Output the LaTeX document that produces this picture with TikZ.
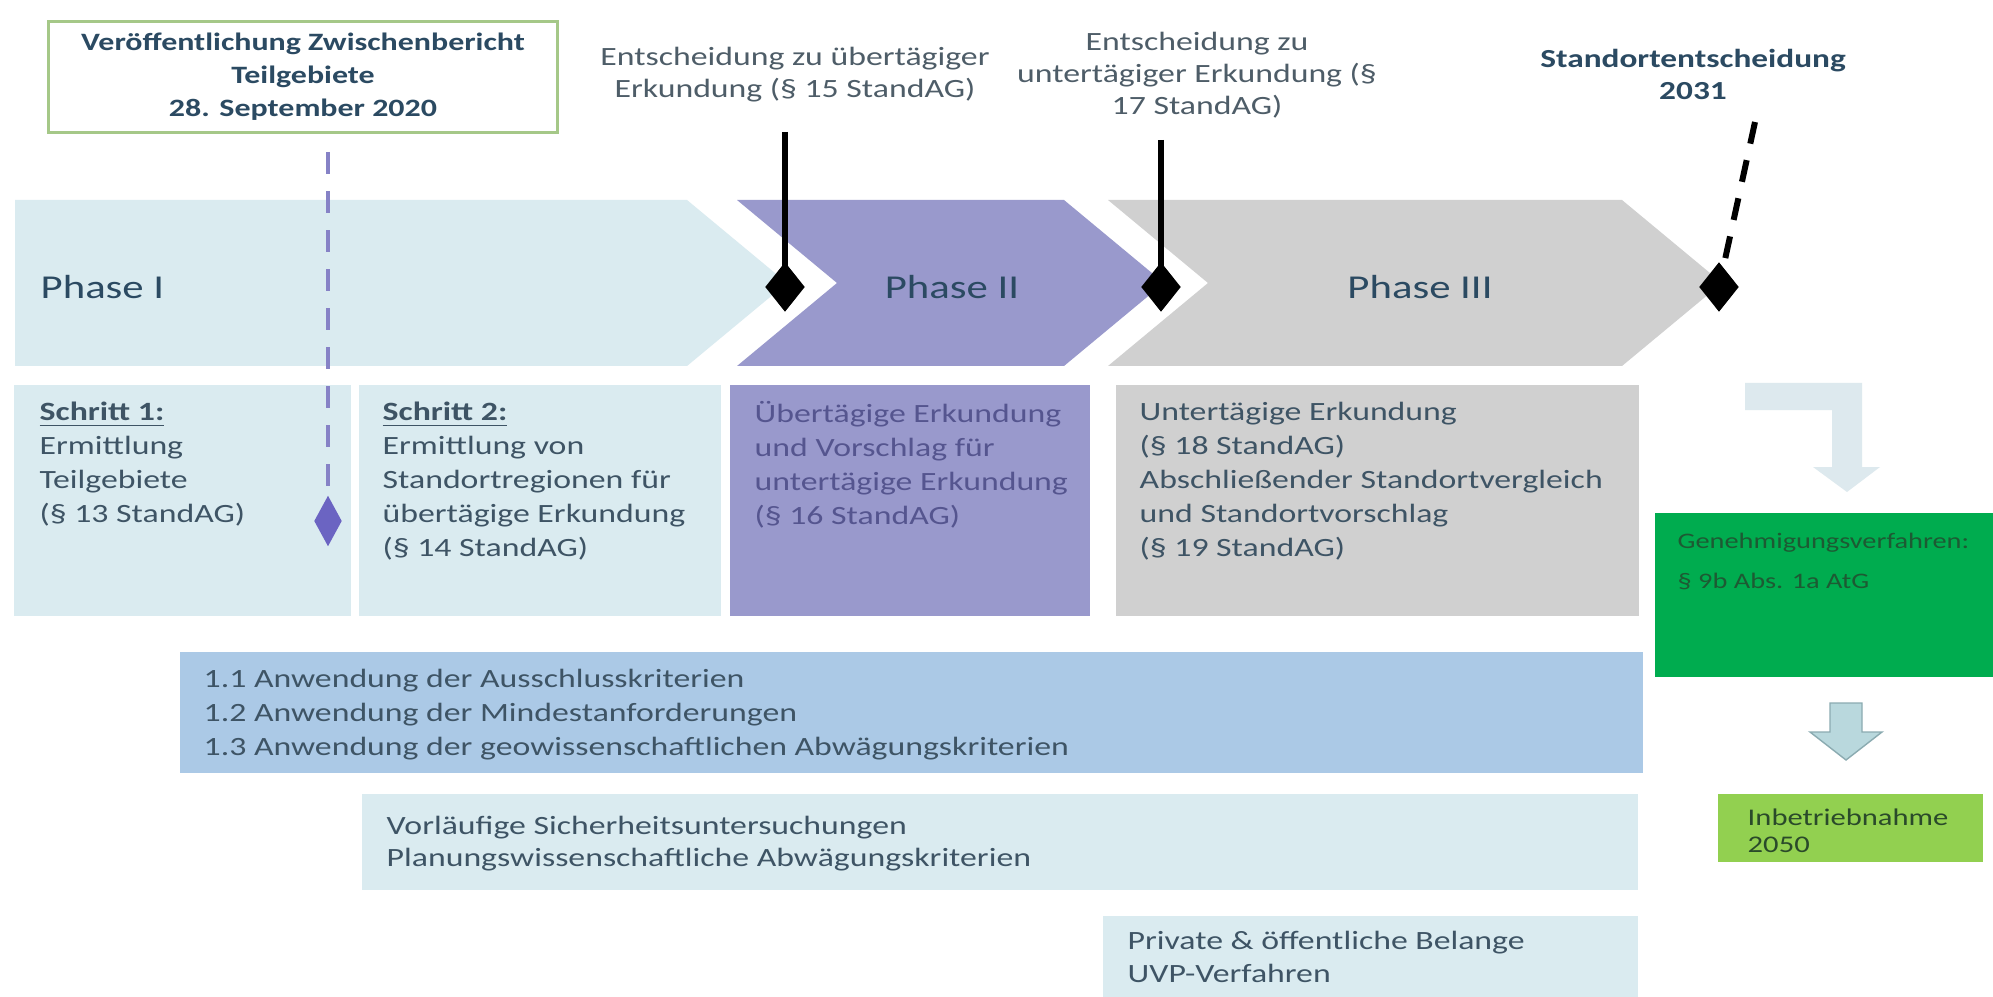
\documentclass[tikz,border=0pt]{standalone}
\usepackage{fontspec}
\setmainfont{Carlito}[FakeStretch=1.28]
\usetikzlibrary{shapes.geometric}
\definecolor{paleblue}{HTML}{DAEBF0}
\definecolor{phasetwo}{HTML}{9999CC}
\definecolor{phasethree}{HTML}{D0D0D0}
\definecolor{critblue}{HTML}{ABC9E6}
\definecolor{bodytext}{HTML}{3E5465}
\definecolor{greytext}{HTML}{4E5D68}
\definecolor{headtext}{HTML}{2B4A62}
\definecolor{purpletext}{HTML}{55558F}
\definecolor{permitgreen}{HTML}{00AC4F}
\definecolor{startgreen}{HTML}{92D050}
\definecolor{framegreen}{HTML}{A5C888}
\definecolor{markpurple}{HTML}{6B64C2}
\definecolor{dashpurple}{HTML}{8682C6}
\definecolor{bendcyan}{HTML}{DDE9EE}
\definecolor{arrowcyan}{HTML}{B9D8DD}
\definecolor{arrowedge}{HTML}{8BABB1}
\definecolor{permittext}{HTML}{1D5A33}
\definecolor{starttext}{HTML}{2A4A2A}
\begin{document}
\begin{tikzpicture}[x=.01cm,y=-.01cm,
  body/.style={anchor=north west,inner sep=0pt,align=left,text=bodytext,font=\fontsize{7.5}{9.67}\selectfont},
  phaselabel/.style={inner sep=0pt,text=headtext,font=\fontsize{9.5}{11}\selectfont},
  decision/.style={inner sep=0pt,align=center,text=greytext,font=\fontsize{7.5}{9.1}\selectfont},
  milestone/.style={diamond,fill=black,inner sep=0pt,minimum width=.4cm,minimum height=.5cm},
  stem/.style={line width=1.7pt},
  dashstem/.style={line width=1.7pt,dash pattern=on 6.3pt off 4.8pt}]
\fill[white] (0,0) rectangle (1993,997);
\useasboundingbox (0,0) rectangle (1993,997);
% phase chevrons
\fill[paleblue] (15,200) -- (687,200) -- (787,283) -- (687,366) -- (15,366) -- cycle;
\fill[phasetwo] (737,200) -- (1064,200) -- (1164,283) -- (1064,366) -- (737,366) -- (837,283) -- cycle;
\fill[phasethree] (1108,200) -- (1622,200) -- (1722,283) -- (1622,366) -- (1108,366) -- (1208,283) -- cycle;
\node[phaselabel,anchor=west] (phase1) at (40,287) {Phase I};
\node[phaselabel] (phase2) at (952,287) {Phase II};
\node[phaselabel] (phase3) at (1420,287) {Phase III};
% steps
\fill[paleblue] (14,385) rectangle (351,616);
\fill[paleblue] (359,385) rectangle (721,616);
\fill[phasetwo] (730,385) rectangle (1090,616);
\fill[phasethree] (1116,385) rectangle (1639,616);
\node[body] (step1) at (39,401) {\textbf{\underline{Schritt 1:}}\\Ermittlung\\Teilgebiete\\(§ 13 StandAG)};
\node[body] (step2) at (382,401) {\textbf{\underline{Schritt 2:}}\\Ermittlung von\\Standortregionen für\\übertägige Erkundung\\(§ 14 StandAG)};
\node[body,text=purpletext] (step3) at (754,401) {Übertägige Erkundung\\und Vorschlag für\\untertägige Erkundung\\(§ 16 StandAG)};
\node[body] (step4) at (1139,401) {Untertägige Erkundung\\(§ 18 StandAG)\\Abschließender Standortvergleich\\und Standortvorschlag\\(§ 19 StandAG)};
% criteria bars
\fill[critblue] (180,652) rectangle (1643,773);
\node[body] (crit1) at (203,668) {1.1 Anwendung der Ausschlusskriterien\\1.2 Anwendung der Mindestanforderungen\\1.3 Anwendung der geowissenschaftlichen Abwägungskriterien};
\fill[paleblue] (362,794) rectangle (1638,890);
\node[body,font=\fontsize{7.5}{9.1}\selectfont] (crit2) at (386,815) {Vorläufige Sicherheitsuntersuchungen\\Planungswissenschaftliche Abwägungskriterien};
\fill[paleblue] (1103,916) rectangle (1638,997);
\node[body,font=\fontsize{7.5}{9.6}\selectfont] (crit3) at (1127,930) {Private \& öffentliche Belange\\UVP-Verfahren};
% milestones
\node[draw=framegreen,line width=.85pt,minimum width=5.09cm,minimum height=1.05cm,align=center,text=headtext,font=\fontsize{7.1}{9.4}\selectfont\bfseries] (report) at (303,77) {Veröffentlichung Zwischenbericht\\Teilgebiete\\28. September 2020};
\node[decision] (overdec) at (795,75) {Entscheidung zu übertägiger\\Erkundung (§ 15 StandAG)};
\node[decision] (underdec) at (1197,75) {Entscheidung zu\\untertägiger Erkundung (§\\17 StandAG)};
\node[inner sep=0pt,align=center,text=headtext,font=\fontsize{7.4}{9.1}\selectfont\bfseries] (sitedec) at (1693,74) {Standortentscheidung\\2031};
\node[diamond,fill=markpurple,inner sep=0pt,minimum width=.28cm,minimum height=.51cm] (pubmark) at (328,521) {};
\node[milestone] (mark1) at (785,287) {};
\node[milestone] (mark2) at (1161,287) {};
\node[milestone] (mark3) at (1719,287) {};
\coordinate (pubtop) at (328,152);
\coordinate (stem1) at (785,132);
\coordinate (stem2) at (1161,140);
\coordinate (stem3) at (1755,122);
\draw[line width=1.4pt,dashpurple,dash pattern=on 6.3pt off 4.8pt] (pubtop) -- (pubmark.north);
\draw[stem] (stem1) -- (mark1.center);
\draw[stem] (stem2) -- (mark2.center);
\draw[dashstem] (stem3) -- (mark3.center);
% approval and start-up
\fill[bendcyan] (1745,383) -- (1862,383) -- (1862,467) -- (1880,467) -- (1847,492) -- (1813,467) -- (1832,467) -- (1832,410) -- (1745,410) -- cycle;
\fill[permitgreen] (1655,513) rectangle (1993,677);
\node[anchor=north west,inner sep=0pt,align=left,text=permittext,font=\fontsize{6.3}{11.4}\selectfont] (permit) at (1677,532) {Genehmigungsverfahren:\\§ 9b Abs. 1a AtG};
\path[fill=arrowcyan,draw=arrowedge,line width=.4pt] (1830,703) -- (1862,703) -- (1862,732) -- (1882,732) -- (1846,760) -- (1810,732) -- (1830,732) -- cycle;
\fill[startgreen] (1718,794) rectangle (1983,862);
\node[anchor=north west,inner sep=0pt,align=left,text=starttext,font=\fontsize{6.8}{7.7}\selectfont] (startup) at (1747,808) {Inbetriebnahme\\2050};
\end{tikzpicture}
\end{document}
